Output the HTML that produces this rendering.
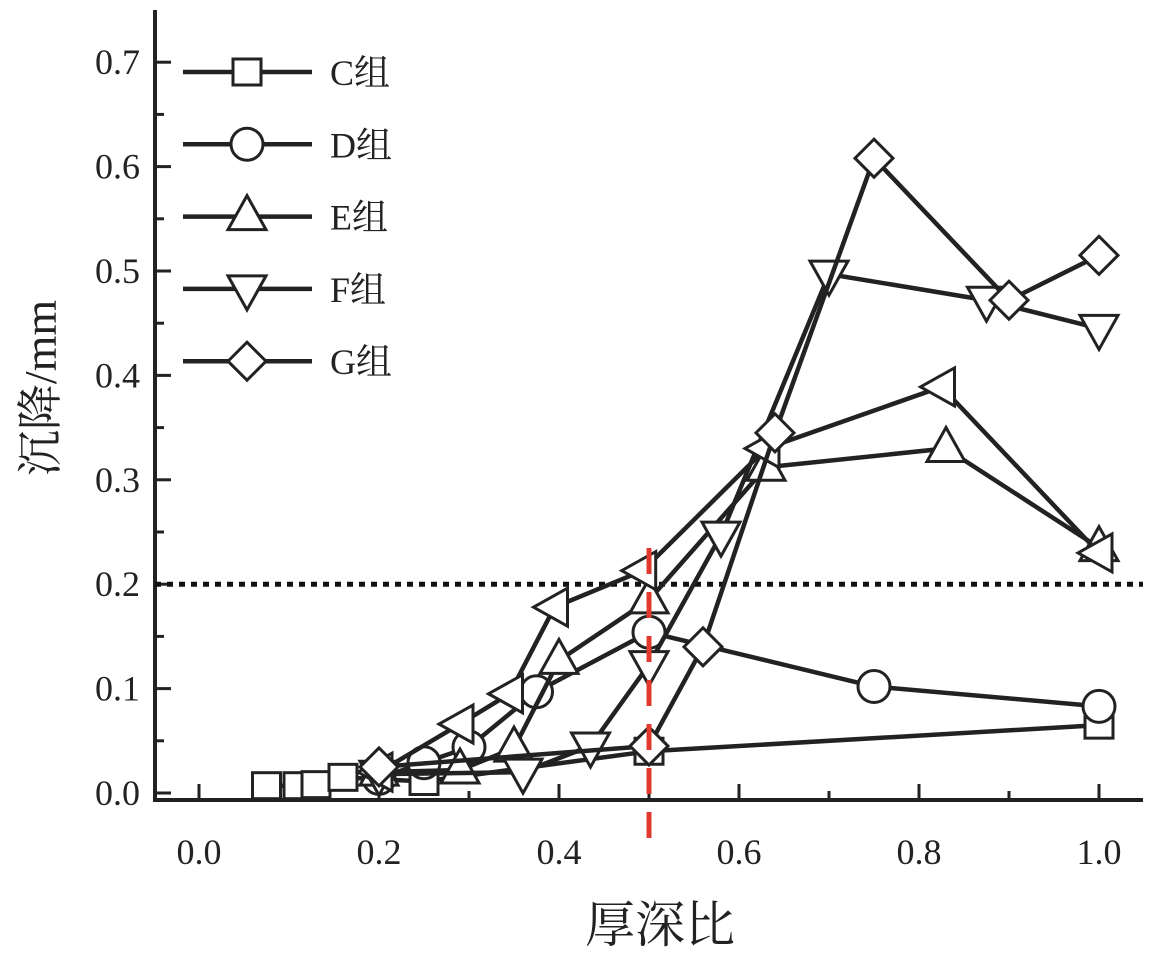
<!DOCTYPE html>
<html><head><meta charset="utf-8"><style>
html,body{margin:0;padding:0;background:#fff;}
svg{display:block;}
text{font-family:"Liberation Serif","Noto Serif CJK SC",serif;fill:#222;}
</style></head><body>
<svg id="chart" width="1160" height="954" viewBox="0 0 1160 954"></svg>
<script>
const xTicks=[0.0,0.2,0.4,0.6,0.8,1.0];
const yTicks=[0.0,0.1,0.2,0.3,0.4,0.5,0.6,0.7];
const seriesNames=["C组","D组","E组","F组","G组","H"];
const cX=[0.075,0.11,0.13,0.16,0.25,0.5,1.0];
const cY=[0.007,0.007,0.008,0.015,0.011,0.04,0.065];
const dX=[0.2,0.25,0.3,0.375,0.5,0.75,1.0];
const dY=[0.014,0.029,0.044,0.097,0.154,0.102,0.083];
const eX=[0.2,0.29,0.35,0.4,0.5,0.63,0.83,1.0];
const eY=[0.02,0.022,0.043,0.127,0.185,0.312,0.33,0.235];
const fX=[0.2,0.36,0.435,0.5,0.58,0.7,0.875,1.0];
const fY=[0.018,0.02,0.045,0.123,0.247,0.497,0.472,0.445];
const gX=[0.2,0.5,0.56,0.64,0.75,0.9,1.0];
const gY=[0.025,0.045,0.14,0.345,0.608,0.472,0.515];
const hX=[0.2,0.29,0.345,0.395,0.493,0.63,0.825,1.0];
const hY=[0.02,0.066,0.095,0.178,0.213,0.33,0.389,0.23];
const threshold=0.2;
const splitX=0.5;

const NS="http://www.w3.org/2000/svg";
const svg=document.getElementById('chart');
const X=v=>199+900*v;
const Y=v=>793-1044*v;
function mk(tag,attrs,parent){const e=document.createElementNS(NS,tag);for(const k in attrs)e.setAttribute(k,attrs[k]);(parent||svg).appendChild(e);return e;}

const ax=mk('line',{x1:155,y1:800,x2:1143,y2:800,stroke:'#222','stroke-width':4});


const ay=mk('line',{x1:155,y1:10,x2:155,y2:802,stroke:'#222','stroke-width':4});


for(let i=0;i<=10;i++){const v=i*0.1;const len=(i%2===0)?16:9;
 const t=mk('line',{x1:X(v),y1:800,x2:X(v),y2:800-len,stroke:'#222','stroke-width':3});
 
 }
xTicks.forEach(v=>{const t=mk('text',{x:X(v),y:864,'font-size':36,'text-anchor':'middle'});t.textContent=v.toFixed(1);
 
 });
for(let i=0;i<=14;i++){const v=i*0.05;const len=(i%2===0)?16:9;
 const t=mk('line',{x1:155,y1:Y(v),x2:155+len,y2:Y(v),stroke:'#222','stroke-width':3});
 
 }
yTicks.forEach(v=>{const t=mk('text',{x:140,y:Y(v)+12,'font-size':36,'text-anchor':'end'});t.textContent=v.toFixed(1);
 
 });
const xt=mk('text',{x:660,y:942,'font-size':50,'text-anchor':'middle'});xt.textContent='厚深比';


const yt=mk('text',{x:0,y:0,'font-size':46,'text-anchor':'middle',transform:'translate(56,388) rotate(-90)'});yt.textContent='沉降/mm';



const th=mk('line',{x1:155,y1:Y(threshold),x2:1143,y2:Y(threshold),stroke:'#111','stroke-width':5,'stroke-dasharray':'6 6'});



function marker(type,cx,cy,g){
 const st={fill:'#fff',stroke:'#222','stroke-width':3};
 let e;
 if(type==='sq')e=mk('rect',Object.assign({x:cx-14,y:cy-13,width:28,height:26},st),g);
 else if(type==='ci')e=mk('circle',Object.assign({cx:cx,cy:cy,r:16},st),g);
 else if(type==='up')e=mk('polygon',Object.assign({points:`${cx},${cy-21} ${cx-19},${cy+13} ${cx+19},${cy+13}`},st),g);
 else if(type==='dn')e=mk('polygon',Object.assign({points:`${cx},${cy+21} ${cx-19},${cy-13} ${cx+19},${cy-13}`},st),g);
 else if(type==='di')e=mk('polygon',Object.assign({points:`${cx},${cy-19} ${cx+19},${cy} ${cx},${cy+19} ${cx-19},${cy}`},st),g);
 else if(type==='lt')e=mk('polygon',Object.assign({points:`${cx-21},${cy} ${cx+13},${cy-19} ${cx+13},${cy+19}`},st),g);
 return e;
}
const all=[[cX,cY,'sq','series-c'],[dX,dY,'ci','series-d'],[eX,eY,'up','series-e'],[fX,fY,'dn','series-f'],[hX,hY,'lt','series-h'],[gX,gY,'di','series-g']];
all.forEach(([xs,ys,type,name])=>{
 const g=mk('g',{});
 
 
 const p=mk('polyline',{points:xs.map((x,i)=>X(x)+','+Y(ys[i])).join(' '),fill:'none',stroke:'#222','stroke-width':4.5},g);
 
 
 xs.forEach((x,i)=>{const m=marker(type,X(x),Y(ys[i]),g);
  
  });
});
const sp=mk('line',{x1:X(splitX),y1:548,x2:X(splitX),y2:850,stroke:'#e03a2f','stroke-width':5,'stroke-dasharray':'26 18'});



const lg=mk('g',{});


mk('rect',{x:175,y:45,width:240,height:350,fill:'#fff'},lg);
const types=['sq','ci','up','dn','di'];
types.forEach((t,i)=>{const y=72+i*72.3;
 const eg=mk('g',{},lg);
 
 
 mk('line',{x1:183,y1:y,x2:312,y2:y,stroke:'#222','stroke-width':4.5},eg);
 marker(t,247,y,eg);
 const tx=mk('text',{x:330,y:y+13,'font-size':36},eg);tx.textContent=seriesNames[i];
});
</script>
</body></html>
